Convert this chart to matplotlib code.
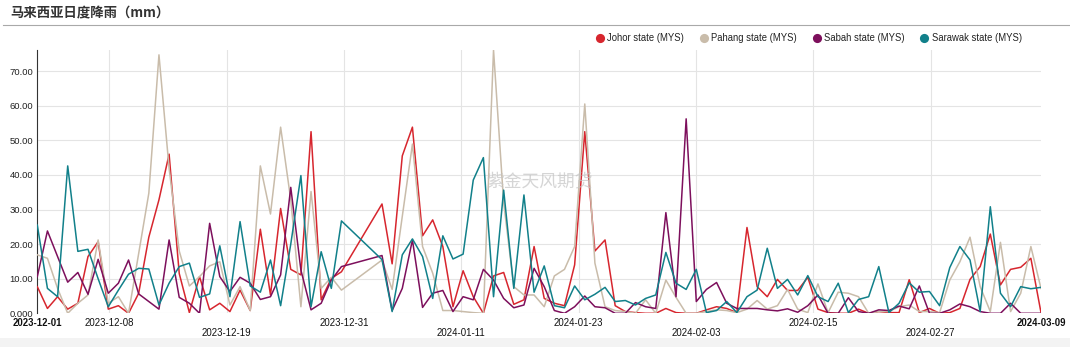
import numpy as np
import pandas as pd
import matplotlib
matplotlib.use("Agg")
import matplotlib.pyplot as plt
from matplotlib.lines import Line2D
from matplotlib.patches import Rectangle

plt.rcParams["font.family"] = ["Liberation Sans", "Noto Sans CJK SC", "DejaVu Sans"]

# Daily rainfall (mm), 2023-12-01 .. 2024-03-09; None = no report that day
dates = pd.date_range("2023-12-01", "2024-03-09", freq="D")

johor = [7.7, 1.4, 4.8, 1.2, 2.9, 16.4, 20.7, 1.2, 2.2, 0, 5.8, 22, 32.8, 46, 11.5, 0.2, 10.6, 1, 2.9, 0.5,
         6.7, 0.8, 24.3, 5.3, 30.3, 12.7, 11.1, 52.5, 3.9, 10.1, 12, None, None, None, 31.6, 14.3, 45.5, 53.8, 22.4, 27,
         19.3, 1.9, 12.3, 4.8, 0, 10.8, 11.8, 2.6, 3.9, 19.3, 4.3, 2.9, 2.2, 14, 52.5, 18, 21.2, 2.2, 0.5, 0.2,
         0, 0, 1.4, 0.2, 0, 0, 1, 1.9, 1.4, 0.2, 24.8, 7.7, 4.8, 9.8, 6.6, 6.6, 10.4, 1.2, 0.2, 0,
         0, 1.2, 0, 0.5, 0.2, 0.2, 9.7, 0.2, 1.4, 0, 0.2, 1.4, 9.8, 13.5, 22.9, 8.2, 12.7, 13.3, 15.9, 0.2]

pahang = [16.9, 15.9, 7.2, 0, 2.9, 5.3, 21.2, 2.9, 4.8, 0, 17.3, 34.7, 74.7, 41.9, 18, 7.9, 10.6, 13.7, 14.9, 2.4,
          7.7, 0.8, 42.6, 28.7, 53.8, 32.8, 1.9, 35.2, 7.2, 10.4, 6.7, None, None, None, 15.4, 6.9, 28, 48.9, 19.3, 11.6,
          0.8, 0.8, 0.5, 0.2, 0, 76.1, 32, 7.7, 5.3, 5.3, 1.9, 10.8, 12.7, 19.3, 60.5, 14.5, 1.9, 0.8, 0.5, 0,
          3.9, 0, 9.6, 4.6, 0, 0, 0.5, 1, 0.8, 0.2, 1.2, 3.7, 1.2, 2.2, 6.9, 1.2, 0.2, 8.5, 0.2, 6.1,
          5.8, 4.8, 0, 0.5, 0.5, 1.9, 2.4, 0.5, 0.5, 0.2, 9.6, 14.9, 22, 7.7, 0.5, 20.5, 0.5, 5.8, 19.3, 7.2]

sabah = [10.6, 23.8, 16.4, 9, 11.8, 5.5, 15.6, 5.8, 8.7, 15.4, 5.6, 3.4, 1.2, 21.2, 4.6, 2.9, 0, 26, 10.6, 6.3,
         10.4, 8.7, 4, 4.8, 11.1, 36.4, 12.5, 1, 2.9, 9.6, 13.5, None, None, None, 16.7, 0.8, 7.2, 21.2, 1.7, 5.8,
         6.6, 0.5, 4.8, 3.9, 12.7, 9.6, 4.3, 1.6, 2.4, 13, 7.7, 0.8, 0, 1.9, 5, 1.9, 1.6, 0, 0, 3.1,
         1.9, 1.4, 29.1, 4.8, 56.2, 3.4, 6.9, 8.9, 2.9, 1.4, 1.4, 1.4, 1, 0.7, 1.3, 0.3, 2.2, 5.3, 0, 0,
         4.5, 0.5, 0, 1, 0.8, 2.1, 1.3, 7.9, 0, 0, 1, 2.7, 1.9, 0.5, 0, 0, 2.9, 0, 0, 0]

sarawak = [25.5, 7.2, 4.8, 42.6, 17.9, 18.5, 10, 1.9, 6.7, 11.3, 13, 12.8, 2.4, 8.7, 13.5, 14.5, 4.6, 5.6, 19.5, 4.8,
           26.5, 7.9, 6.1, 15.4, 2.2, 20, 39.8, 1.9, 17.8, 7.2, 26.7, None, None, None, 15.5, 0.5, 16.9, 21.5, 16.4, 4.3,
           22.4, 15.7, 17.1, 38.5, 45, 4.8, 35.6, 7.2, 34.2, 6.1, 13.7, 2.2, 1.6, 7.9, 3.9, 5.5, 7.5, 3.4, 3.7, 2.4,
           4.3, 5.3, 17.6, 8.7, 6.9, 12.7, 0.2, 0.8, 3.4, 0.2, 4.8, 6.7, 18.8, 7.2, 9.8, 5.3, 10.9, 4.8, 3.4, 8.7,
           0.2, 4, 4.8, 13.5, 0.2, 2.9, 8.8, 6.1, 6.3, 2.2, 13.2, 19.3, 15.4, 0.5, 30.8, 5.8, 1.9, 7.7, 7.1, 7.5]

series_names = ["Johor state (MYS)", "Pahang state (MYS)", "Sabah state (MYS)", "Sarawak state (MYS)"]
series_colors = ["#d7262e", "#c9bcaa", "#7d0f5c", "#11808a"]

x_labels = ["2023-12-08", "2023-12-19", "2023-12-31", "2024-01-11",
            "2024-01-23", "2024-02-03", "2024-02-15", "2024-02-27"]

W, H = 1070, 347
fig = plt.figure(figsize=(W / 100, H / 100), dpi=100)
fig.patch.set_facecolor("white")

# footer band and title rule
fig.add_artist(Rectangle((0, 0), 1, (H - 337.7) / H, transform=fig.transFigure,
                         facecolor="#f3f3f3", edgecolor="none"))
fig.add_artist(Line2D([3 / W, 1], [1 - 25 / H] * 2, color="#a9a9a9", lw=0.8))
fig.text(10 / W, 1 - 13.5 / H, "马来西亚日度降雨（mm）", family=["Noto Sans CJK SC", "DejaVu Sans"],
         weight="bold", size=9.6, va="center", ha="left", color="#333333")

left, right, top, bottom = 37.3, 1041, 50, 313.3
ax = fig.add_axes([left / W, 1 - bottom / H, (right - left) / W, (bottom - top) / H])

days = (dates - dates[0]).days.values.astype(float)
all_vals = []
for name, vals, col in zip(series_names, [johor, pahang, sabah, sarawak], series_colors):
    arr = np.array([np.nan if v is None else v for v in vals], dtype=float)
    ok = ~np.isnan(arr)
    ax.plot(days[ok], arr[ok], color=col, lw=1.1, label=name, zorder=3)
    all_vals.append(arr[ok])

ymax = max(a.max() for a in all_vals)
ax.set_xlim(days[0], days[-1])
ax.set_ylim(0, ymax)

yticks = np.arange(0, 80, 10)
ax.set_yticks(yticks, ["0.000"] + [f"{v:.2f}" for v in yticks[1:]])
ax.tick_params(axis="y", length=0, pad=3, labelsize=6.8, labelcolor="#222222")

tick_days = 7.1 + 11.575 * np.arange(len(x_labels))
ax.set_xticks(tick_days)
ax.tick_params(axis="x", length=0, labelbottom=False)
ax.grid(True, color="#e4e4e4", lw=0.8, zorder=0)
ax.set_axisbelow(True)

for s in ["top", "right", "bottom"]:
    ax.spines[s].set_visible(False)
ax.spines["left"].set_color("#333333")
ax.spines["left"].set_linewidth(0.8)

# date labels in two staggered rows; first and last dates in bold
row_off = [6.8, 14.0]
ax.annotate(dates[0].strftime("%Y-%m-%d"), xy=(days[0], 0), xycoords=("data", "axes fraction"),
            xytext=(0, -row_off[0]), textcoords="offset points", ha="center", va="center",
            fontsize=6.9, weight="bold", color="#111111")
ax.annotate(dates[-1].strftime("%Y-%m-%d"), xy=(days[-1], 0), xycoords=("data", "axes fraction"),
            xytext=(0, -row_off[0]), textcoords="offset points", ha="center", va="center",
            fontsize=6.9, weight="bold", color="#111111")
for i, (d, lab) in enumerate(zip(tick_days, x_labels)):
    ax.annotate(lab, xy=(d, 0), xycoords=("data", "axes fraction"),
                xytext=(0, -row_off[i % 2]), textcoords="offset points", ha="center", va="center",
                fontsize=6.9, color="#111111")

# legend with round markers
handles = [Line2D([], [], marker="o", linestyle="none", markersize=6.6, color=c,
                  markeredgewidth=0) for c in series_colors]
fig.legend(handles, series_names, loc="center right", bbox_to_anchor=(1021.7 / W, 1 - 38.3 / H),
           ncol=4, frameon=False, fontsize=6.85, handlelength=1.0, handletextpad=0.25,
           columnspacing=1.6, borderpad=0, borderaxespad=0, labelcolor="#222222")

fig.text(540 / W, 1 - 181 / H, "紫金天风期货", family=["Noto Sans CJK SC", "DejaVu Sans"],
         size=12.8, color="#c4c4c4", alpha=0.7, ha="center", va="center", zorder=10)

fig.savefig("out.png", dpi=100, facecolor="white")
